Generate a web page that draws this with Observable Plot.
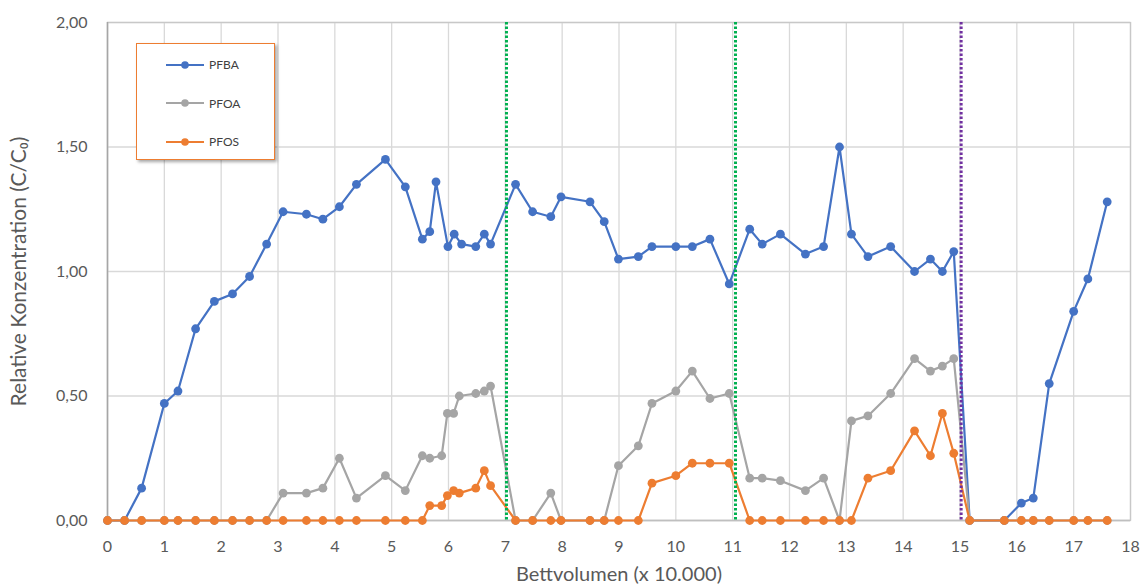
<!DOCTYPE html>
<html>
<head>
<meta charset="utf-8">
<script src="https://cdn.jsdelivr.net/npm/d3@7"></script>
<script src="https://cdn.jsdelivr.net/npm/@observablehq/plot@0.6"></script>
<style>
  html, body { margin: 0; padding: 0; background: #fff; }
  #wrap { position: relative; width: 1144px; height: 588px; font-family: Lato, "Open Sans", sans-serif; }
  #wrap svg [aria-label="x-axis label"] text { font-size: 20px; }
  #wrap svg [aria-label="y-axis label"] text { font-size: 21px; }
  #legend {
    position: absolute; left: 136px; top: 43px; width: 139px; height: 117px;
    border: 1.5px solid #ED7D31; background: #fff;
    box-shadow: 2px 2px 3px rgba(0,0,0,0.35);
    box-sizing: border-box;
  }
  .lrow { position: absolute; left: 28px; display: flex; align-items: center; font-size: 12px; color: #404040; }
  .lrow svg { margin-right: 4px; }
</style>
</head>
<body>
<div id="wrap"></div>
<script>
// ---- data ----
const seriesNames = ["PFBA", "PFOA", "PFOS"];
const seriesColors = ["#4472C4", "#A5A5A5", "#ED7D31"];

const pfbaX = [0, 0.3, 0.6, 1.0, 1.24, 1.55, 1.88, 2.2, 2.5, 2.8, 3.09, 3.5, 3.79, 4.08, 4.38, 4.89, 5.24, 5.54, 5.67, 5.78, 5.99, 6.1, 6.23, 6.48, 6.63, 6.74, 7.18, 7.48, 7.8, 7.98, 8.49, 8.74, 8.99, 9.34, 9.58, 10.0, 10.29, 10.6, 10.94, 11.3, 11.52, 11.84, 12.28, 12.6, 12.88, 13.09, 13.38, 13.78, 14.2, 14.48, 14.69, 14.89, 15.17, 15.78, 16.08, 16.29, 16.57, 17.0, 17.25, 17.59];
const pfbaY = [0, 0, 0.13, 0.47, 0.52, 0.77, 0.88, 0.91, 0.98, 1.11, 1.24, 1.23, 1.21, 1.26, 1.35, 1.45, 1.34, 1.13, 1.16, 1.36, 1.10, 1.15, 1.11, 1.10, 1.15, 1.11, 1.35, 1.24, 1.22, 1.30, 1.28, 1.20, 1.05, 1.06, 1.10, 1.10, 1.10, 1.13, 0.95, 1.17, 1.11, 1.15, 1.07, 1.10, 1.50, 1.15, 1.06, 1.10, 1.00, 1.05, 1.00, 1.08, 0, 0, 0.07, 0.09, 0.55, 0.84, 0.97, 1.28];

const pfoaX = [0, 0.3, 0.6, 1.0, 1.24, 1.55, 1.88, 2.2, 2.5, 2.8, 3.09, 3.5, 3.79, 4.08, 4.38, 4.89, 5.24, 5.54, 5.67, 5.88, 5.98, 6.09, 6.19, 6.48, 6.63, 6.74, 7.18, 7.48, 7.8, 7.98, 8.49, 8.74, 8.99, 9.34, 9.58, 10.0, 10.29, 10.6, 10.94, 11.3, 11.52, 11.84, 12.28, 12.6, 12.88, 13.09, 13.38, 13.78, 14.2, 14.48, 14.69, 14.89, 15.17, 15.78, 16.08, 16.29, 16.57, 17.0, 17.25, 17.59];
const pfoaY = [0, 0, 0, 0, 0, 0, 0, 0, 0, 0, 0.11, 0.11, 0.13, 0.25, 0.09, 0.18, 0.12, 0.26, 0.25, 0.26, 0.43, 0.43, 0.50, 0.51, 0.52, 0.54, 0, 0, 0.11, 0, 0, 0, 0.22, 0.30, 0.47, 0.52, 0.60, 0.49, 0.51, 0.17, 0.17, 0.16, 0.12, 0.17, 0, 0.40, 0.42, 0.51, 0.65, 0.60, 0.62, 0.65, 0, 0, 0, 0, 0, 0, 0, 0];

const pfosX = pfoaX;
const pfosY = [0, 0, 0, 0, 0, 0, 0, 0, 0, 0, 0, 0, 0, 0, 0, 0, 0, 0, 0.06, 0.06, 0.10, 0.12, 0.11, 0.13, 0.20, 0.14, 0, 0, 0, 0, 0, 0, 0, 0, 0.15, 0.18, 0.23, 0.23, 0.23, 0, 0, 0, 0, 0, 0, 0, 0.17, 0.20, 0.36, 0.26, 0.43, 0.27, 0, 0, 0, 0, 0, 0, 0, 0];

const markerX = [7.02, 11.05, 15.02];
const markerColors = ["#00B050", "#00B050", "#7030A0"];

const xTicks = d3.range(0, 19);
const yTicks = [0, 0.5, 1, 1.5, 2];

const xLabel = "Bettvolumen (x 10.000)";
const yLabel = "Relative Konzentration (C/C\u2080)";

// ---- build ----
const seriesX = [pfbaX, pfoaX, pfosX];
const seriesY = [pfbaY, pfoaY, pfosY];
const series = seriesNames.map((name, i) => ({
  name, color: seriesColors[i],
  data: seriesX[i].map((x, j) => ({x, y: seriesY[i][j]}))
}));
const markers = markerX.map((x, i) => ({x, c: markerColors[i]}));

const fmt = d => d.toFixed(2).replace(".", ",");

const marks = [
  Plot.gridX(xTicks, {stroke: "#d9d9d9", strokeOpacity: 1, strokeWidth: 1.3}),
  Plot.gridY(yTicks, {stroke: "#d9d9d9", strokeOpacity: 1, strokeWidth: 1.3}),
  Plot.frame({stroke: "#c8c8c8", strokeWidth: 1.3}),
  Plot.ruleX([0], {stroke: "#a6a6a6", strokeWidth: 1.5}),
  Plot.ruleY([0], {stroke: "#bfbfbf", strokeWidth: 1.5}),
];
for (const s of series) {
  marks.push(Plot.line(s.data, {x: "x", y: "y", stroke: s.color, strokeWidth: 2.2}));
  marks.push(Plot.dot(s.data, {x: "x", y: "y", fill: s.color, r: 4.4}));
}
marks.push(Plot.ruleX(markers, {x: "x", stroke: "c", strokeWidth: 3, strokeDasharray: "2.5,2"}));
marks.push(Plot.axisX({ticks: xTicks, tickSize: 0, tickPadding: 20, tickFormat: d => String(d), label: xLabel, labelAnchor: "center", labelArrow: "none", labelOffset: 60, fontSize: 16}));
marks.push(Plot.axisY({ticks: yTicks, tickSize: 0, tickPadding: 20, tickFormat: fmt, label: yLabel, labelAnchor: "center", labelArrow: "none", labelOffset: 96, fontSize: 16}));

const chart = Plot.plot({
  width: 1144, height: 588,
  marginLeft: 107, marginRight: 14, marginTop: 22, marginBottom: 68,
  x: {domain: [0, 18]},
  y: {domain: [0, 2]},
  color: {type: "identity"},
  style: {fontFamily: "Lato, 'Open Sans', sans-serif", fontSize: "16px", color: "#595959", background: "#fff"},
  marks
});
const wrap = document.getElementById("wrap");
wrap.appendChild(chart);

// legend
const legend = document.createElement("div");
legend.id = "legend";
series.forEach((s, i) => {
  const row = document.createElement("div");
  row.className = "lrow";
  row.style.top = (13 + i * 38.5) + "px";
  row.innerHTML = `<svg width="40" height="10"><line x1="1" y1="5" x2="39" y2="5" stroke="${s.color}" stroke-width="1.8"/><circle cx="20" cy="5" r="3.8" fill="${s.color}"/></svg><span>${s.name}</span>`;
  legend.appendChild(row);
});
wrap.appendChild(legend);
</script>
</body>
</html>
